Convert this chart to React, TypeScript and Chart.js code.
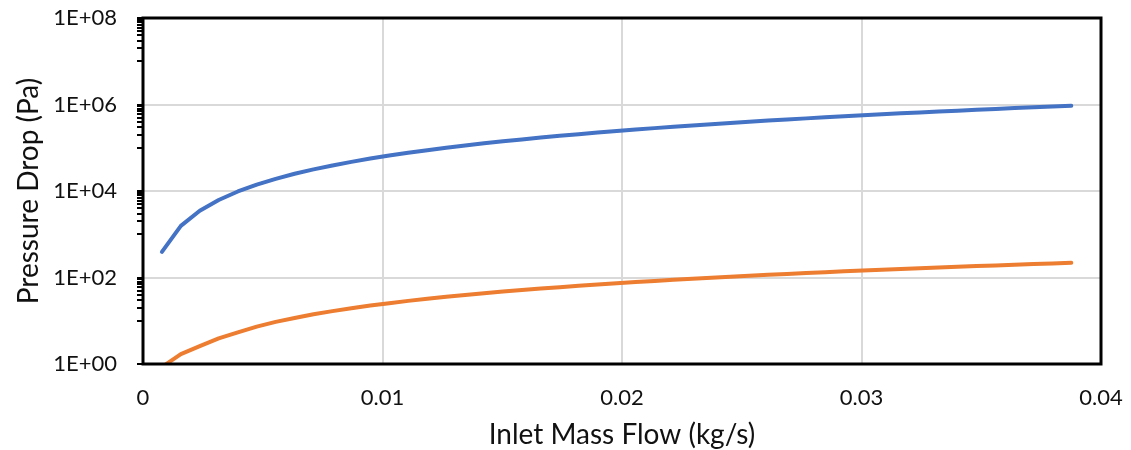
import React, { useEffect, useRef } from 'react';
import { Chart, registerables } from 'chart.js';

Chart.register(...registerables);

// Inlet mass flow (kg/s)
const X_FLOW = [
  0.00079, 0.00158, 0.00237, 0.00316, 0.00396, 0.00475, 0.00554, 0.00633, 0.00712, 0.00791,
  0.0087, 0.00949, 0.01028, 0.01107, 0.01187, 0.01266, 0.01345, 0.01424, 0.01503, 0.01582,
  0.01661, 0.0174, 0.01819, 0.01898, 0.01978, 0.02057, 0.02136, 0.02215, 0.02294, 0.02373,
  0.02452, 0.02531, 0.0261, 0.02689, 0.02769, 0.02848, 0.02927, 0.03006, 0.03085, 0.03164,
  0.03243, 0.03322, 0.03401, 0.0348, 0.0356, 0.03639, 0.03718, 0.03797, 0.03876,
];

// Pressure drop (Pa), blue series
const DP_SERIES1 = [
  390, 1560, 3500, 6200, 9750, 14000, 19100, 25000, 31600, 39000,
  47200, 56200, 65900, 76400, 87800, 99800, 112700, 126400, 140800, 156000,
  172000, 188800, 206300, 224600, 243800, 263600, 284300, 305800, 328000, 351000,
  374800, 399400, 424700, 450800, 477800, 505400, 533900, 563200, 593200, 624000,
  655600, 688000, 721100, 755000, 789800, 825200, 861500, 898600, 936000,
];

// Pressure drop (Pa), orange series
const DP_SERIES2 = [
  0.85, 1.7, 2.6, 3.9, 5.4, 7.3, 9.4, 11.6, 14.1, 16.7,
  19.5, 22.4, 25.5, 28.8, 32.2, 35.7, 39.4, 43.2, 47.2, 51.2,
  55.5, 59.8, 64.3, 68.9, 73.6, 78.4, 83.4, 88.4, 93.6, 98.8,
  104.2, 109.7, 115.3, 121, 126.9, 132.8, 138.8, 145, 151.2, 157.5,
  164, 170.5, 177.1, 183.8, 190.6, 197.5, 204.5, 211.6, 219.5,
];

const X_TICKS = [0, 0.01, 0.02, 0.03, 0.04];
const X_TICK_LABELS = ['0', '0.01', '0.02', '0.03', '0.04'];
const Y_MAJOR = [1, 1e2, 1e4, 1e6, 1e8];
const Y_TICK_LABELS = ['1E+00', '1E+02', '1E+04', '1E+06', '1E+08'];
const Y_MINOR_DECADES = [1e1, 1e3, 1e5, 1e7];
const Y_MINOR_MULT = [1, 2, 3, 4, 5, 6, 7, 8, 9];

const X_TITLE = 'Inlet Mass Flow (kg/s)';
const Y_TITLE = 'Pressure Drop (Pa)';

const FONT = 'Lato, "Open Sans", sans-serif';
const TEXT = '#111111';
const GRID = '#d9d9d9';

const frame = {
  id: 'frame',
  afterDatasetsDraw(chart: any) {
    const { ctx, chartArea } = chart;
    ctx.save();
    ctx.strokeStyle = '#000';
    ctx.lineWidth = 3;
    ctx.strokeRect(chartArea.left, chartArea.top, chartArea.right - chartArea.left, chartArea.bottom - chartArea.top);
    ctx.restore();
  },
};

const zeroPad = (s: any) => {
  s.paddingTop = 0;
  s.paddingBottom = 0;
  s.paddingLeft = 0;
  s.paddingRight = 0;
};

export default function App() {
  const ref = useRef<HTMLCanvasElement | null>(null);

  useEffect(() => {
    if (!ref.current) return;
    const yTickValues: number[] = [...Y_MAJOR];
    Y_MINOR_DECADES.forEach((d) => Y_MINOR_MULT.forEach((m) => yTickValues.push(d * m)));
    yTickValues.sort((a, b) => a - b);

    const chart = new Chart(ref.current, {
      type: 'line',
      data: {
        datasets: [
          {
            label: 'Series1',
            data: X_FLOW.map((x, i) => ({ x, y: DP_SERIES1[i] })),
            borderColor: '#4472C4',
            backgroundColor: '#4472C4',
            borderWidth: 4,
            pointRadius: 0,
            tension: 0,
            borderCapStyle: 'round',
            borderJoinStyle: 'round',
          },
          {
            label: 'Series2',
            data: X_FLOW.map((x, i) => ({ x, y: DP_SERIES2[i] })),
            borderColor: '#ED7D31',
            backgroundColor: '#ED7D31',
            borderWidth: 4,
            pointRadius: 0,
            tension: 0,
            borderCapStyle: 'round',
            borderJoinStyle: 'round',
          },
        ],
      },
      options: {
        responsive: false,
        animation: false,
        layout: { padding: { top: 18, right: 30, left: 0, bottom: 0 } },
        plugins: { legend: { display: false }, tooltip: { enabled: false } },
        scales: {
          x: {
            type: 'linear',
            min: 0,
            max: 0.04,
            afterFit: (s: any) => { s.height = 86; zeroPad(s); },
            afterBuildTicks: (s: any) => { s.ticks = X_TICKS.map((v) => ({ value: v })); },
            border: { display: false },
            grid: { color: GRID, lineWidth: 2, drawTicks: false },
            ticks: {
              autoSkip: false,
              maxRotation: 0,
              padding: 21,
              color: TEXT,
              font: { family: FONT, size: 22 },
              callback: (v: any) => {
                const i = X_TICKS.indexOf(Number(v));
                return i >= 0 ? X_TICK_LABELS[i] : '';
              },
            },
            title: {
              display: true,
              text: X_TITLE,
              color: TEXT,
              font: { family: FONT, size: 28 },
              padding: { top: 0, bottom: -2 },
            },
          },
          y: {
            type: 'logarithmic',
            min: 1,
            max: 1e8,
            afterFit: (s: any) => { s.width = 143; zeroPad(s); },
            afterBuildTicks: (s: any) => { s.ticks = yTickValues.map((v) => ({ value: v })); },
            border: { display: false },
            grid: {
              color: (c: any) => (c.tick && Y_MAJOR.indexOf(c.tick.value) >= 0 ? GRID : 'rgba(0,0,0,0)'),
              lineWidth: 2,
              drawTicks: true,
              tickLength: 6,
              tickColor: '#000',
              tickWidth: 2,
            },
            ticks: {
              autoSkip: false,
              padding: 20,
              color: TEXT,
              font: { family: FONT, size: 22 },
              callback: (v: any) => {
                const i = Y_MAJOR.indexOf(Number(v));
                return i >= 0 ? Y_TICK_LABELS[i] : '';
              },
            },
            title: {
              display: true,
              text: Y_TITLE,
              color: TEXT,
              font: { family: FONT, size: 28 },
              padding: { top: 12, bottom: 0 },
            },
          },
        },
      },
      plugins: [frame],
    } as any);
    return () => chart.destroy();
  }, []);

  return (
    <div style={{ position: 'absolute', left: 0, top: 0, width: 1131, height: 450, background: '#fff' }}>
      <canvas ref={ref} width={1131} height={450} style={{ display: 'block' }} />
    </div>
  );
}
